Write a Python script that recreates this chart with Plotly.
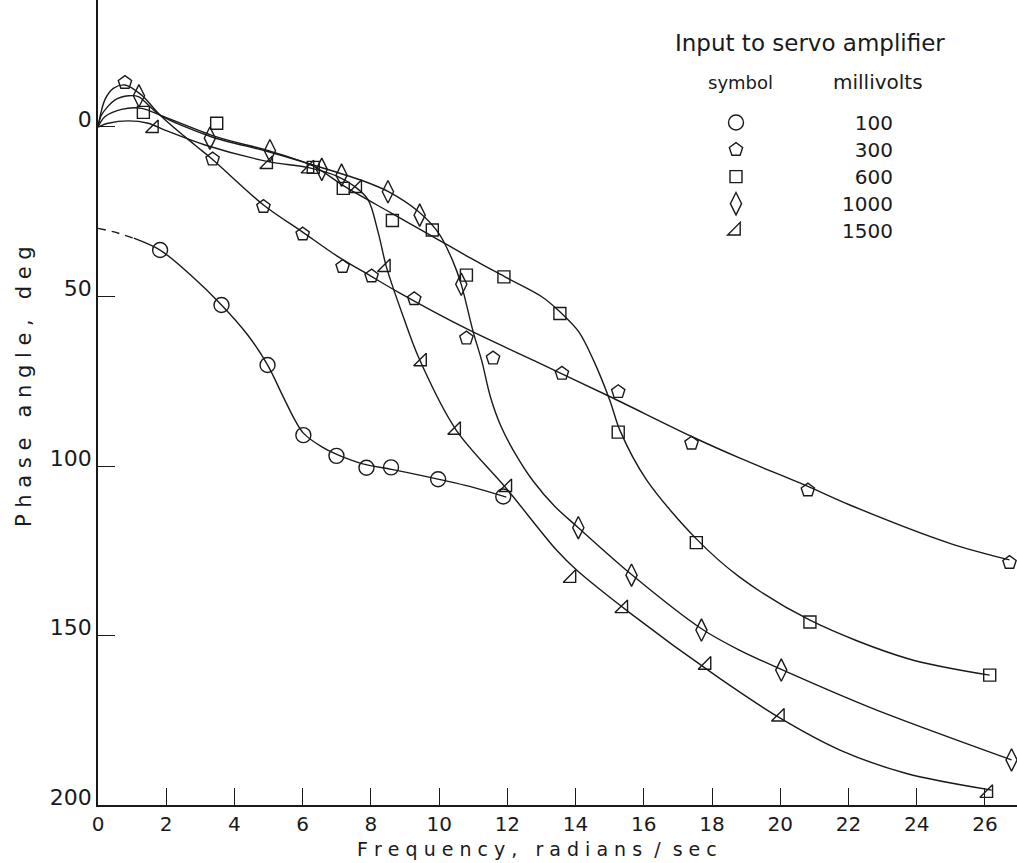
import plotly.graph_objects as go

# ---------------- data ----------------
mv_labels = ["100", "300", "600", "1000", "1500"]

# measured points (frequency rad/s, phase angle deg)
f100 = [1.82, 3.62, 4.97, 6.02, 6.99, 7.87, 8.59, 9.97, 11.88]
p100 = [36.3, 52.5, 70.2, 90.9, 97.0, 100.5, 100.4, 103.9, 109.0]

f300 = [0.79, 3.36, 4.85, 6.0, 7.17, 8.02, 9.27, 10.8, 11.58, 13.6, 15.25, 17.4, 20.81, 26.72]
p300 = [-13.1, 9.5, 23.5, 31.6, 41.2, 44.0, 50.7, 62.3, 68.2, 72.7, 78.1, 93.3, 107.1, 128.5]

f600 = [1.33, 3.48, 6.31, 7.19, 8.63, 9.80, 10.8, 11.9, 13.54, 15.25, 17.54, 20.87, 26.14]
p600 = [-4.3, -1.1, 11.9, 18.1, 27.6, 30.4, 43.7, 44.2, 55.0, 90.0, 122.6, 146.0, 161.7]

f1000 = [1.2, 3.28, 5.04, 6.56, 7.14, 8.5, 9.43, 10.65, 14.08, 15.64, 17.69, 20.03, 26.78]
p1000 = [-9.2, 3.3, 7.0, 12.5, 14.2, 19.1, 26.0, 46.4, 118.2, 132.2, 148.4, 160.2, 186.7]

f1500 = [1.64, 4.99, 6.2, 7.6, 8.44, 9.5, 10.5, 12.0, 13.88, 15.4, 17.84, 19.99, 26.1]
p1500 = [0.4, 11.0, 12.3, 18.1, 41.4, 69.2, 89.4, 106.3, 133.1, 142.0, 158.7, 174.0, 196.5]

# faired curves drawn through the points
c100_dash_f = [0.0, 0.5, 1.05]
c100_dash_p = [29.9, 31.0, 32.8]
c100_f = [1.05, 1.82, 2.7, 3.62, 4.4, 4.97, 5.43, 5.77, 6.02, 6.55, 7.0, 7.73, 8.6, 9.67, 11.0, 11.97]
c100_p = [32.8, 36.3, 43.5, 52.5, 61.5, 70.2, 79.6, 86.4, 90.3, 94.3, 96.6, 99.3, 101.0, 103.2, 106.3, 109.2]

c300_f = [0.0, 0.2, 0.45, 0.79, 1.28, 1.82, 2.84, 3.35, 4.85, 6.0, 7.0, 8.0, 8.85, 10.8, 12.8, 15.0, 17.4, 18.82, 20.81, 22.04, 24.97, 26.72]
c300_p = [0.0, -8.0, -11.4, -12.4, -9.4, -3.5, 5.3, 9.5, 23.0, 31.0, 38.0, 44.0, 49.0, 59.5, 69.0, 79.5, 91.3, 97.7, 106.0, 111.5, 122.8, 127.7]

c600_f = [0.0, 0.2, 0.69, 1.28, 1.82, 3.5, 5.0, 6.3, 7.24, 8.6, 9.83, 10.8, 11.93, 13.0, 13.54, 14.1, 14.52, 15.0, 15.3, 16.08, 17.54, 18.8, 20.87, 23.7, 26.14]
c600_p = [0.0, -3.0, -5.2, -5.5, -3.5, 3.0, 7.0, 11.5, 17.6, 25.4, 32.4, 38.0, 44.2, 50.0, 54.5, 60.5, 68.7, 80.5, 89.5, 104.1, 121.5, 132.7, 145.5, 156.7, 161.7]

c1000_f = [0.0, 0.1, 0.5, 0.9, 1.2, 1.5, 1.82, 3.3, 5.0, 6.5, 7.8, 8.5, 9.4, 10.0, 10.4, 10.65, 11.0, 11.25, 11.5, 11.8, 12.17, 12.76, 13.4, 14.08, 15.64, 17.69, 18.8, 20.03, 22.7, 26.78]
c1000_p = [0.0, -3.5, -8.0, -9.2, -8.9, -6.2, -3.5, 2.8, 7.3, 11.8, 16.0, 19.0, 25.0, 31.5, 39.5, 46.5, 60.5, 69.0, 79.5, 88.0, 95.3, 104.5, 112.0, 118.2, 132.0, 148.0, 154.3, 160.0, 171.5, 186.7]

c1500_f = [0.0, 0.3, 0.89, 1.47, 1.96, 3.14, 4.99, 6.17, 7.0, 7.53, 7.92, 8.22, 8.46, 8.95, 9.4, 10.5, 11.97, 13.44, 14.03, 15.6, 18.13, 20.0, 21.75, 23.7, 26.2]
c1500_p = [0.0, -1.1, -1.8, -1.1, 0.9, 5.3, 10.2, 12.0, 14.5, 17.6, 21.5, 31.4, 41.5, 56.0, 68.0, 89.4, 106.6, 124.8, 130.7, 143.4, 162.0, 174.4, 183.8, 190.7, 195.6]

x_ticks = list(range(0, 27, 2))
y_ticks = [0, 50, 100, 150, 200]

# ---------------- styling ----------------
INK = "#1a1a1a"
FONT = "DejaVu Sans"
LW = 1.4

series = [
    ("100", f100, p100, "circle-open", 15),
    ("300", f300, p300, "pentagon-open", 14),
    ("600", f600, p600, "square-open", 12),
    ("1000", f1000, p1000, "diamond-tall-open", 16),
    ("1500", f1500, p1500, "triangle-se-open", 14),
]
curves = [
    (c100_f, c100_p), (c300_f, c300_p), (c600_f, c600_p),
    (c1000_f, c1000_p), (c1500_f, c1500_p),
]

fig = go.Figure()

fig.add_trace(go.Scatter(x=c100_dash_f, y=c100_dash_p, mode="lines",
                         line=dict(color=INK, width=LW, dash="8px,6px"),
                         showlegend=False, hoverinfo="skip"))
for cf, cp in curves:
    fig.add_trace(go.Scatter(x=cf, y=cp, mode="lines",
                             line=dict(color=INK, width=LW, shape="spline", smoothing=0.9),
                             showlegend=False, hoverinfo="skip", cliponaxis=False))

for name, fx, py, sym, size in series:
    label = name if len(name) == 4 else "\u2007" + name
    fig.add_trace(go.Scatter(x=fx, y=py, mode="markers",
                             name="<span style='font-size:20px'>" + label + "</span>",
                             marker=dict(symbol=sym, size=size, color=INK,
                                         line=dict(color=INK, width=1.4)),
                             cliponaxis=False))

W, H = 1017, 863
L, B = 98, 58
plot_w = W - L
plot_h = H - B


def px_x(px):
    return (px - L) / plot_w


def px_y(py):
    return (plot_h - py) / plot_h


annotations = [
    dict(text="F r e q u e n c y ,   r a d i a n s  /  s e c", x=px_x(537), y=px_y(849),
         xref="paper", yref="paper", showarrow=False, xanchor="center", yanchor="middle",
         font=dict(family=FONT, size=19, color=INK)),
    dict(text="P h a s e   a n g l e ,   d e g", x=px_x(24), y=px_y(387),
         xref="paper", yref="paper", showarrow=False, xanchor="center", yanchor="middle",
         textangle=-90, font=dict(family=FONT, size=21, color=INK)),
    dict(text="Input to servo amplifier", x=px_x(810), y=px_y(43),
         xref="paper", yref="paper", showarrow=False, xanchor="center", yanchor="middle",
         font=dict(family=FONT, size=23, color=INK)),
    dict(text="symbol", x=px_x(740), y=px_y(82),
         xref="paper", yref="paper", showarrow=False, xanchor="center", yanchor="middle",
         font=dict(family=FONT, size=18, color=INK)),
    dict(text="millivolts", x=px_x(878), y=px_y(82),
         xref="paper", yref="paper", showarrow=False, xanchor="center", yanchor="middle",
         font=dict(family=FONT, size=20, color=INK)),
]

fig.update_layout(
    width=W, height=H,
    margin=dict(l=L, r=0, t=0, b=B),
    paper_bgcolor="white", plot_bgcolor="white",
    font=dict(family=FONT, color=INK),
    annotations=annotations,
    legend=dict(x=px_x(630), y=px_y(104), xanchor="left", yanchor="top",
                bgcolor="rgba(0,0,0,0)", itemwidth=202,
                font=dict(family=FONT, size=18.5, color=INK),
                tracegroupgap=0),
    xaxis=dict(range=[0, 26.94], tickvals=x_ticks, ticktext=[str(v) for v in x_ticks],
               ticks="inside", ticklen=17, tickwidth=1.4, tickcolor=INK,
               showline=True, linecolor=INK, linewidth=1.6, showgrid=False, zeroline=False,
               tickfont=dict(family=FONT, size=20, color=INK)),
    yaxis=dict(range=[200, -37.46], tickvals=y_ticks, ticktext=[str(v) for v in y_ticks],
               ticks="inside", ticklen=17, tickwidth=1.4, tickcolor=INK,
               showline=True, linecolor=INK, linewidth=1.6, showgrid=False, zeroline=False,
               tickfont=dict(family=FONT, size=22, color=INK), ticklabelshift=8),
)

fig.write_html("out.html", config={"displayModeBar": False},
               post_script="document.body.style.margin='0';")
